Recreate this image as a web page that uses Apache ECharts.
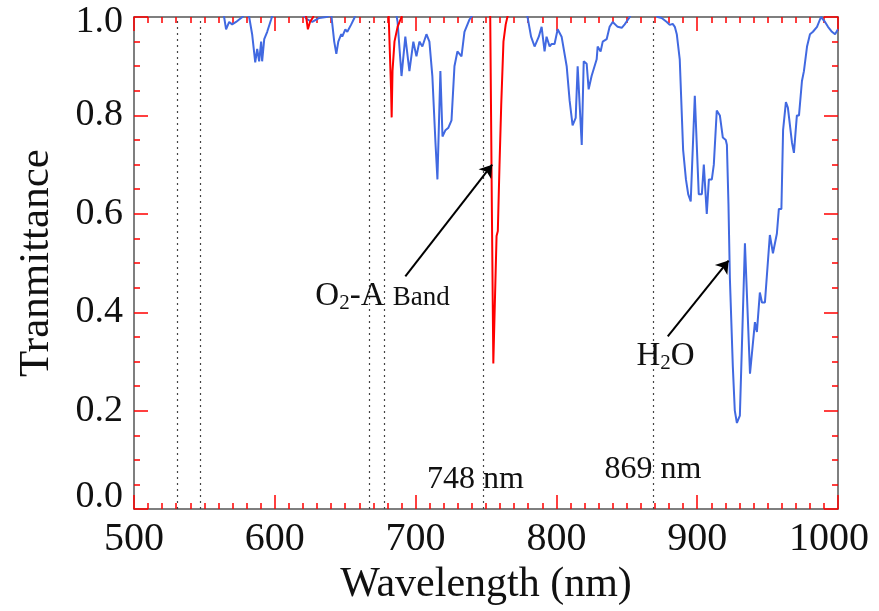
<!DOCTYPE html>
<html>
<head>
<meta charset="utf-8">
<script src="https://cdn.jsdelivr.net/npm/echarts@6/dist/echarts.min.js"></script>
<style>
html, body { margin: 0; padding: 0; background: #fff; }
#chart { width: 879px; height: 611px; }
</style>
</head>
<body>
<div id="chart"></div>
<script>
// H2O transmittance (blue), values above 1 run off the top of the plot
const h2oWl = [562.5, 564, 565.4, 567.6, 569.7, 572.5, 574.7, 577, 579.7, 581.8,
    583.9, 586.1, 587.5, 588.9, 590.3, 591, 592.5, 594.6, 597.4, 599,
    605, 615, 620, 623, 626.6, 631.6, 636.6, 640.1, 642.2, 643.7,
    645.1, 647.2, 647.9, 650.1, 651.5, 654.3, 656.5, 658, 665, 680,
    686, 687.2, 690, 692.7, 695.6, 698.4, 700.6, 702.7, 704.8, 707.7,
    709.8, 711.9, 714.1, 715.5, 717.6, 719.1, 721.2, 723.3, 725.5, 727.6,
    729.7, 732.6, 734.7, 738.3, 741.8, 746, 774, 778, 779.5, 782,
    784.5, 785.9, 787.5, 789.5, 791.6, 793, 795.2, 796.5, 798.7, 800.9,
    803.7, 807.3, 809.4, 811.5, 813.7, 815.1, 816.5, 818, 819.4, 821.5,
    822.9, 825, 828.6, 829.3, 831.4, 832.9, 834.3, 835.7, 837.8, 840,
    843.5, 846.4, 848.5, 852.1, 855, 866, 871, 872, 874.8, 878.4,
    880.5, 882.6, 884.1, 885.5, 887.6, 890, 892, 893.6, 895.4, 898.3,
    901.1, 903.3, 904.7, 906.8, 908.3, 910.4, 911.8, 913.9, 916.1, 918.2,
    920.3, 921.1, 922.2, 923.2, 925.3, 926.7, 928.2, 929.6, 930.3, 933.9,
    937.5, 941, 942.4, 944.5, 946, 948.1, 951.6, 953.8, 956.6, 958,
    959.8, 961, 963, 964.4, 967.3, 968.7, 970.8, 972.3, 974.4, 975.8,
    978, 980.1, 982.2, 985.1, 987.9, 990.8, 992.9, 995.7, 997.9, 1000]
const h2oT = [1.03, 1.0, 0.975, 0.99, 0.985, 0.99, 0.995, 1.0, 1.01, 1.0,
    0.965, 0.908, 0.935, 0.91, 0.95, 0.91, 0.955, 0.97, 0.995, 1.01,
    1.03, 1.03, 1.005, 0.995, 0.99, 0.998, 1.0, 1.005, 0.95, 0.925,
    0.95, 0.965, 0.96, 0.975, 0.97, 0.985, 0.998, 1.01, 1.03, 1.03,
    1.01, 0.99, 0.88, 0.96, 0.89, 0.95, 0.92, 0.95, 0.94, 0.965,
    0.95, 0.88, 0.745, 0.67, 0.89, 0.757, 0.77, 0.775, 0.79, 0.9,
    0.93, 0.92, 0.97, 0.995, 1.01, 1.03, 1.03, 1.01, 1.0, 0.96,
    0.94, 0.94, 0.96, 0.98, 0.93, 0.96, 0.94, 0.945, 0.945, 0.975,
    0.96, 0.9, 0.83, 0.78, 0.795, 0.9, 0.9, 0.74, 0.91, 0.905,
    0.853, 0.88, 0.914, 0.94, 0.93, 0.95, 0.948, 0.955, 0.98, 0.99,
    0.98, 0.978, 0.985, 1.0, 1.02, 1.02, 1.005, 1.0, 0.998, 0.99,
    0.984, 0.986, 0.98, 0.965, 0.914, 0.73, 0.67, 0.64, 0.625, 0.84,
    0.64, 0.64, 0.7, 0.6, 0.67, 0.67, 0.7, 0.81, 0.8, 0.755,
    0.75, 0.74, 0.62, 0.47, 0.29, 0.2, 0.175, 0.175, 0.19, 0.54,
    0.275, 0.38, 0.36, 0.44, 0.42, 0.42, 0.557, 0.52, 0.56, 0.61,
    0.61, 0.77, 0.827, 0.816, 0.745, 0.724, 0.8, 0.8, 0.87, 0.89,
    0.94, 0.965, 0.97, 0.98, 1.0, 0.99, 0.98, 0.97, 0.965, 0.975]

// O2 transmittance (red), null breaks the line between bands
const o2Wl = [620, 622.3, 623.5, 625, 627.3, 628.5, 650,
    679.5, 680.9, 682.6, 683, 683.6, 684.2, 685, 687.2, 690, 691.5, 720,
    751.5, 753, 754.2, 755.2, 757.5, 758.4, 759.6, 760.8, 762.4, 764, 766, 768]
const o2T = [1.03, 1.0, 0.975, 0.99, 1.0, 1.03, null,
    1.03, 1.0, 0.85, 0.796, 0.89, 0.894, 0.95, 0.98, 1.0, 1.03, null,
    1.05, 1.0, 0.6, 0.296, 0.555, 0.565, 0.7, 0.82, 0.95, 0.985, 1.01, 1.04]

// band centres marked with dotted lines
const bandCenters = [531, 547, 667, 678, 748, 869]

const serif = 'Liberation Serif'
const tickColor = 'red'

const pairs = (xs, ys) => xs.map((x, i) => [x, ys[i]])

const ax = (extra) => Object.assign({
    type: 'value',
    axisLine: { show: true, onZero: false, lineStyle: { color: '#555', width: 1.5 } },
    axisTick: { show: true, inside: true, length: 14, lineStyle: { color: tickColor, width: 1.5 } },
    splitLine: { show: false }
}, extra)

const myChart = echarts.init(document.querySelector('#chart'))

myChart.setOption({
    animation: false,
    grid: { left: 134, right: 41, top: 17, bottom: 101 },
    xAxis: [
        ax({
            position: 'bottom', min: 500, max: 1000, interval: 100,
            minorTick: { show: true, splitNumber: 10, length: 6, lineStyle: { color: tickColor, width: 1.5 } },
            name: 'Wavelength (nm)',
            nameLocation: 'middle',
            nameGap: 51,
            nameTextStyle: { fontFamily: serif, fontSize: 42, color: '#111' },
            axisLabel: {
                show: true, margin: 10,
                fontFamily: serif, fontSize: 40, color: '#111',
                formatter: v => v === 1000 ? '{r|1000}' : String(v),
                rich: { r: { fontFamily: serif, fontSize: 40, color: '#111', padding: [0, 18, 0, 0] } }
            }
        }),
        ax({
            position: 'top', min: 500, max: 1000, interval: 100,
            minorTick: { show: true, splitNumber: 10, length: 6, lineStyle: { color: tickColor, width: 1.5 } },
            axisLabel: { show: false }
        })
    ],
    yAxis: [
        ax({
            position: 'left', min: 0, max: 1, interval: 0.2,
            minorTick: { show: true, splitNumber: 4, length: 6, lineStyle: { color: tickColor, width: 1.5 } },
            name: 'Tranmittance',
            nameLocation: 'middle',
            nameRotate: 90,
            nameGap: 76,
            nameTextStyle: { fontFamily: serif, fontSize: 43, color: '#111' },
            axisLabel: {
                show: true, margin: 11,
                fontFamily: serif, fontSize: 38, color: '#111',
                formatter: v => v === 0 ? '{z|0.0}' : (v === 1 ? '{t|1.0}' : v.toFixed(1)),
                rich: {
                    z: { fontFamily: serif, fontSize: 38, color: '#111', padding: [0, 0, 24, 0] },
                    t: { fontFamily: serif, fontSize: 38, color: '#111', padding: [10, 0, 0, 0] }
                }
            }
        }),
        ax({
            position: 'right', min: 0, max: 1, interval: 0.2,
            minorTick: { show: true, splitNumber: 4, length: 6, lineStyle: { color: tickColor, width: 1.5 } },
            axisLabel: { show: false }
        })
    ],
    series: [
        {
            name: 'H2O',
            type: 'line',
            showSymbol: false,
            clip: true,
            lineStyle: { color: '#4169E1', width: 2 },
            data: pairs(h2oWl, h2oT),
            markLine: {
                silent: true,
                symbol: ['none', 'none'],
                label: { show: false },
                lineStyle: { color: '#444', width: 1.2, type: [2, 4] },
                data: bandCenters.map(x => ({ xAxis: x }))
            },
            markPoint: {
                silent: true,
                symbol: 'circle',
                symbolSize: 0,
                label: {
                    show: true, position: 'inside', color: '#111',
                    fontFamily: serif, fontSize: 32,
                    formatter: p => p.name,
                    rich: {
                        n: { fontFamily: serif, fontSize: 33, color: '#111' },
                        s: { fontFamily: serif, fontSize: 21, color: '#111', padding: [14, 0, 0, 0] },
                        b: { fontFamily: serif, fontSize: 27, color: '#111', padding: [3, 0, 0, 0] }
                    }
                },
                data: [
                    { name: '748 nm', coord: [742.5, 0.06] },
                    { name: '869 nm', coord: [868.5, 0.08] },
                    { name: '{n|O}{s|2}{n|-A }{b|Band}', coord: [676.5, 0.432] },
                    { name: '{n|H}{s|2}{n|O}', coord: [877.5, 0.31] }
                ]
            }
        },
        {
            name: 'O2',
            type: 'line',
            showSymbol: false,
            clip: true,
            connectNulls: false,
            lineStyle: { color: '#FF0000', width: 2 },
            data: pairs(o2Wl, o2T),
            markLine: {
                silent: true,
                symbol: ['none', 'arrow'],
                symbolSize: 12,
                label: { show: false },
                lineStyle: { color: '#000', width: 2, type: 'solid' },
                data: [
                    [{ coord: [692.7, 0.473] }, { coord: [754.4, 0.70] }],
                    [{ coord: [879.1, 0.351] }, { coord: [922.3, 0.505] }]
                ]
            }
        }
    ]
})
</script>
</body>
</html>
